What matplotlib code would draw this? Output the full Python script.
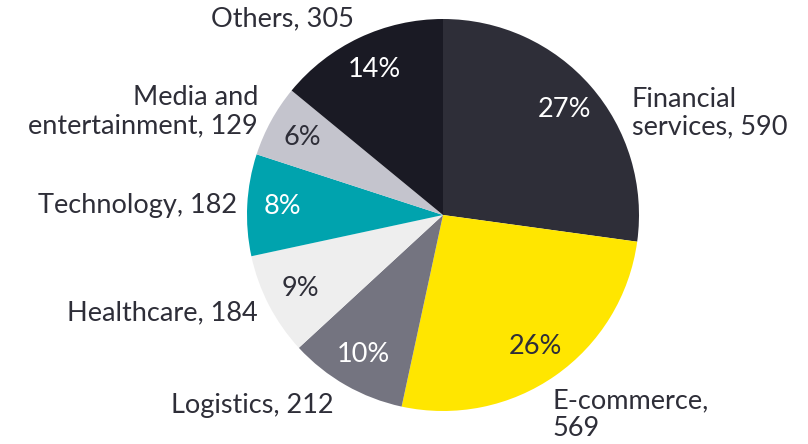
import numpy as np
import matplotlib.pyplot as plt

# Sector counts, clockwise from 12 o'clock
sectors = ["Financial\nservices, 590", "E-commerce,\n569", "Logistics, 212",
           "Healthcare, 184", "Technology, 182", "Media and\nentertainment, 129",
           "Others, 305"]
counts = [590, 569, 212, 184, 182, 129, 305]
pct_labels = ["27%", "26%", "10%", "9%", "8%", "6%", "14%"]

colors = ["#2e2e38", "#ffe600", "#747480", "#eeeeee", "#00a3ae", "#c4c4cd", "#1a1a24"]
pct_colors = ["white", "#2e2e38", "white", "#2e2e38", "white", "#2e2e38", "white"]
text_color = "#2e2e38"

# label anchors in pie-radius units (center = 0,0), with alignment
label_pos = [(0.964, 0.52, "left"), (0.561, -1.02, "left"), (-0.974, -0.97, "center"),
             (-0.944, -0.50, "right"), (-1.051, 0.05, "right"), (-0.944, 0.526, "right"),
             (-0.821, 1.0, "center")]

plt.rcParams["font.family"] = ["Lato", "DejaVu Sans"]

W, H = 808, 444
cx, cy, R = 443, 215, 196

fig = plt.figure(figsize=(W / 100, H / 100), dpi=100)
ax = fig.add_axes([0, 0, 1, 1])

wedges, _ = ax.pie(counts, colors=colors, startangle=90, counterclock=False,
                   radius=1, center=(0, 0), wedgeprops=dict(linewidth=0))

for w, pct, pc in zip(wedges, pct_labels, pct_colors):
    mid = np.deg2rad((w.theta1 + w.theta2) / 2)
    ax.text(0.82 * np.cos(mid), 0.82 * np.sin(mid), pct, color=pc,
            fontsize=19.5, ha="center", va="center")

for lab, (x, y, ha) in zip(sectors, label_pos):
    ax.text(x, y, lab, color=text_color, fontsize=19.5,
            ha=ha, va="center", multialignment=ha, linespacing=1.15)

ax.set_xlim(-cx / R, (W - cx) / R)
ax.set_ylim(-(H - cy) / R, cy / R)
ax.set_aspect("auto")
ax.axis("off")

fig.savefig("out.png", dpi=100)
